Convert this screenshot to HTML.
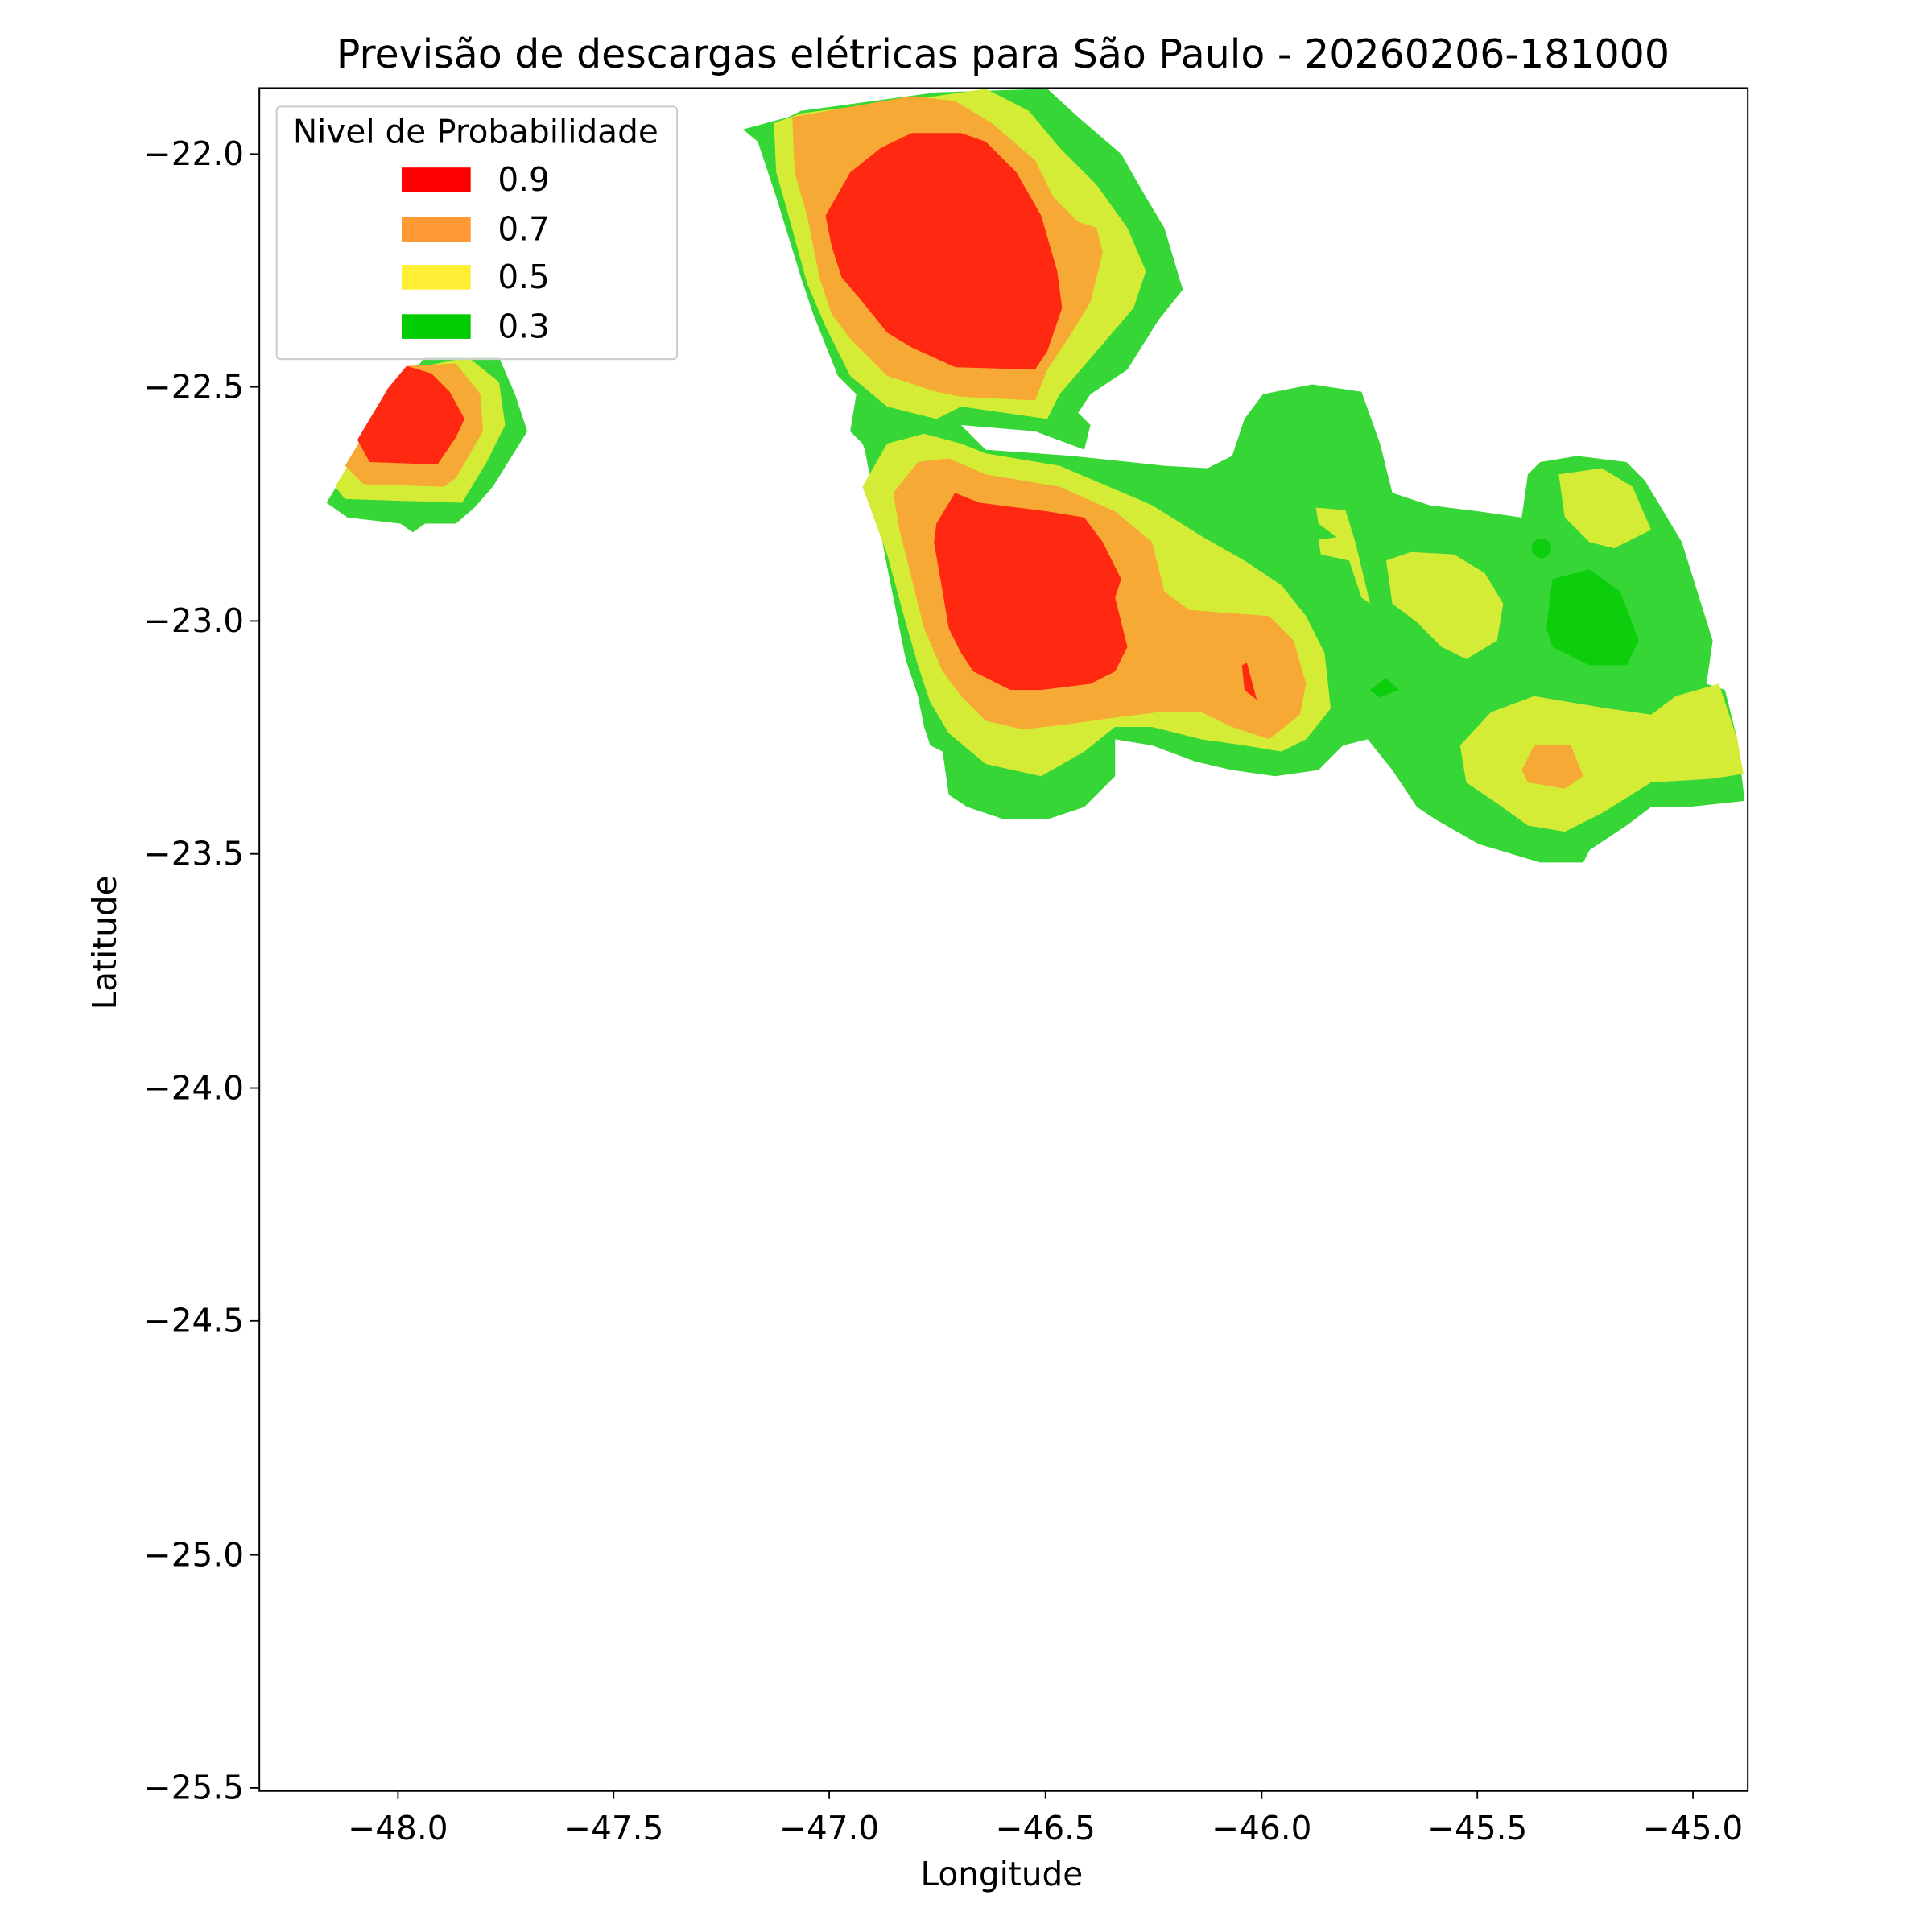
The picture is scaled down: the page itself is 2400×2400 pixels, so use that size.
<!DOCTYPE html>
<html><head><meta charset="utf-8"><style>html,body{margin:0;padding:0;background:#fff}svg{display:block}</style></head><body>
<svg width="2400" height="2400" viewBox="0 0 1568 1568" xmlns="http://www.w3.org/2000/svg" font-family="'DejaVu Sans','Liberation Sans',sans-serif">
<rect width="1568" height="1568" fill="#fff"/>
<g stroke-linejoin="round">
<polygon fill="#36d636" points="265,408 285,375 320,320 345,290 405,290 418,320 428,350 400,395 385,412 370,425 345,425 335,432 325,425 282,420"/>
<polygon fill="#d5ec37" points="272,395 290,365 330,300 380,290 405,310 410,345 395,375 375,408 280,405"/>
<polygon fill="#f7a935" points="280,378 300,345 330,297 370,295 390,320 392,350 370,388 360,395 295,393"/>
<polygon fill="#ff2810" points="290,357 315,315 330,297 350,303 365,318 377,340 370,355 355,377 300,375"/>
<polygon fill="#36d636" points="603,105 640,95 650,90 760,75 850,72 875,95 910,125 930,160 945,185 960,235 940,260 915,300 885,320 875,335 885,345 880,365 840,350 780,345 775,355 735,345 720,365 715,400 700,360 690,350 695,320 680,305 670,280 660,255 650,225 630,160 615,115"/>
<polygon fill="#36d636" points="700,355 720,345 775,340 800,365 870,370 945,378 980,380 1000,370 1010,340 1025,320 1065,312 1105,318 1120,360 1130,400 1160,410 1200,415 1235,420 1240,385 1250,375 1280,370 1320,375 1335,390 1365,440 1390,520 1385,555 1400,560 1410,600 1416,650 1370,655 1340,655 1320,670 1290,690 1285,700 1250,700 1200,685 1165,665 1150,655 1130,625 1110,600 1090,605 1070,625 1035,630 1000,625 970,618 935,605 905,600 905,630 880,655 850,665 815,665 785,655 770,645 765,610 755,605 750,590 745,565 735,535 720,460"/>
<polygon fill="#d5ec37" points="628,100 650,92 760,78 800,72 835,90 860,120 890,150 915,185 930,220 920,250 890,285 860,320 850,340 780,330 760,340 720,330 690,305 670,265 655,230 640,175 630,140"/>
<polygon fill="#f7a935" points="643,95 740,78 775,82 805,100 840,130 855,160 875,180 890,185 895,205 885,245 870,270 850,300 840,325 780,322 760,318 720,305 690,275 675,255 665,225 655,175 645,140"/>
<polygon fill="#ff2810" points="670,175 690,140 715,120 740,108 780,108 800,115 825,140 845,175 858,220 862,250 850,285 840,300 775,298 740,282 720,270 700,245 683,225 675,200"/>
<polygon fill="#d5ec37" points="700,395 720,360 750,352 780,360 800,368 860,378 900,395 935,410 975,435 1010,455 1040,475 1060,500 1075,530 1080,575 1060,600 1040,610 1010,605 975,600 935,590 905,590 880,610 845,630 800,620 770,595 755,570 745,540 735,505 720,450"/>
<polygon fill="#f7a935" points="725,400 745,375 770,372 800,385 860,395 905,415 935,440 945,480 965,495 1030,500 1050,520 1060,555 1055,580 1030,600 1000,590 975,578 940,578 900,583 865,588 830,592 800,585 780,565 765,545 750,510 740,470 730,430"/>
<polygon fill="#ff2810" points="760,425 775,400 795,408 850,415 880,420 895,440 910,470 905,485 915,525 905,545 885,555 845,560 820,560 790,545 780,530 770,510 765,480 758,440"/>
<polygon fill="#ff2810" points="1008,540 1012,538 1020,568 1010,560"/>
<polygon fill="#d5ec37" points="1068,412 1092,414 1100,440 1112,490 1105,485 1095,455 1072,450 1070,438 1085,436 1070,425"/>
<polygon fill="#d5ec37" points="1125,455 1145,448 1180,450 1205,465 1220,490 1215,520 1190,535 1170,525 1150,505 1130,490"/>
<polygon fill="#d5ec37" points="1265,385 1300,380 1325,395 1340,430 1310,445 1290,440 1270,420"/>
<polygon fill="#d5ec37" points="1185,605 1210,578 1245,565 1275,570 1305,575 1340,580 1360,565 1395,555 1410,600 1415,628 1390,632 1340,635 1300,660 1270,675 1240,670 1215,652 1190,635"/>
<polygon fill="#f7a935" points="1235,625 1245,605 1275,605 1285,630 1270,640 1240,635"/>
<polygon fill="#0cce0c" points="1255,510 1260,470 1290,462 1315,480 1330,520 1320,540 1290,540 1260,525"/>
<circle cx="1251" cy="445" r="8" fill="#0cce0c"/>
<polygon fill="#0cce0c" points="1112,560 1125,550 1135,560 1120,566"/>
</g>
<rect x="210.5" y="71.5" width="1208" height="1382" fill="none" stroke="#000" stroke-width="1.3"/>
<g stroke="#000" stroke-width="1.2">
<line x1="323" y1="1453" x2="323" y2="1460"/><line x1="498" y1="1453" x2="498" y2="1460"/><line x1="673" y1="1453" x2="673" y2="1460"/><line x1="848.5" y1="1453" x2="848.5" y2="1460"/><line x1="1024" y1="1453" x2="1024" y2="1460"/><line x1="1199" y1="1453" x2="1199" y2="1460"/><line x1="1374" y1="1453" x2="1374" y2="1460"/>
<line x1="203" y1="125" x2="210" y2="125"/><line x1="203" y1="314" x2="210" y2="314"/><line x1="203" y1="504" x2="210" y2="504"/><line x1="203" y1="693" x2="210" y2="693"/><line x1="203" y1="883" x2="210" y2="883"/><line x1="203" y1="1072" x2="210" y2="1072"/><line x1="203" y1="1262" x2="210" y2="1262"/><line x1="203" y1="1451" x2="210" y2="1451"/>
</g>
<g font-size="26.5" fill="#000" text-anchor="middle">
<text x="323" y="1493">−48.0</text><text x="498" y="1493">−47.5</text><text x="673" y="1493">−47.0</text><text x="848.5" y="1493">−46.5</text><text x="1024" y="1493">−46.0</text><text x="1199" y="1493">−45.5</text><text x="1374" y="1493">−45.0</text>
<text x="813" y="1530">Longitude</text>
<text transform="translate(94,765) rotate(-90)">Latitude</text>
</g>
<g font-size="26.5" fill="#000" text-anchor="end">
<text x="198" y="134">−22.0</text><text x="198" y="323">−22.5</text><text x="198" y="513">−23.0</text><text x="198" y="702">−23.5</text><text x="198" y="892">−24.0</text><text x="198" y="1081">−24.5</text><text x="198" y="1271">−25.0</text><text x="198" y="1460">−25.5</text>
</g>
<text x="814" y="55" font-size="32" text-anchor="middle">Previsão de descargas elétricas para São Paulo - 20260206-181000</text>
<rect x="224.5" y="86.5" width="325" height="205" rx="3" fill="#fff" fill-opacity="0.8" stroke="#ccc" stroke-width="1.3"/>
<text x="386" y="116" font-size="26.5" text-anchor="middle">Nivel de Probabilidade</text>
<rect x="326" y="136" width="56" height="20" fill="#ff0000"/>
<rect x="326" y="176" width="56" height="20" fill="#ff9933"/>
<rect x="326" y="215" width="56" height="20" fill="#ffee33"/>
<rect x="326" y="255" width="56" height="20" fill="#00cc00"/>
<g font-size="26.5"><text x="404" y="155">0.9</text><text x="404" y="195">0.7</text><text x="404" y="234">0.5</text><text x="404" y="274">0.3</text></g>
</svg>
</body></html>
